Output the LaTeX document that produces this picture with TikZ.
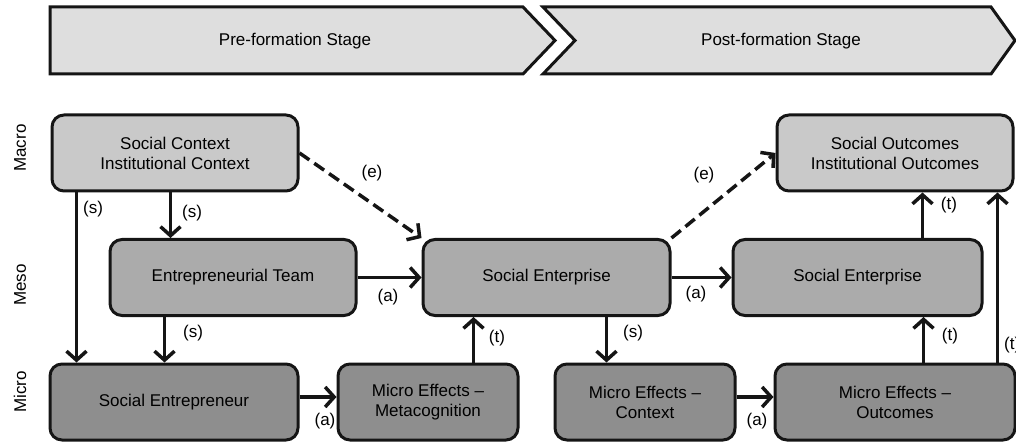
\documentclass[tikz,border=0pt]{standalone}
\usepackage{fontspec}
\setmainfont{Liberation Sans}
\definecolor{StageGray}{HTML}{DEDEDE}
\definecolor{MacroGray}{HTML}{C9C9C9}
\definecolor{MesoGray}{HTML}{ABABAB}
\definecolor{MicroGray}{HTML}{8E8E8E}
\definecolor{EdgeBlack}{HTML}{151515}
\usetikzlibrary{arrows.meta}

\begin{document}
\begin{tikzpicture}[x=1pt, y=-1pt,
    every node/.style={font=\fontsize{17}{20}\selectfont},
    box/.style={rectangle, rounded corners=12pt, draw=EdgeBlack, line width=3pt,
      minimum height=76pt, align=center, inner sep=0pt},
    macrobox/.style={box, fill=MacroGray},
    mesobox/.style={box, fill=MesoGray},
    microbox/.style={box, fill=MicroGray},
    stage/.style={draw=EdgeBlack, fill=StageGray, line width=3pt, line join=miter},
    lvl/.style={rotate=90},
    lab/.style={inner sep=0pt},
    arr/.style={-{Straight Barb[length=9pt,width=20pt]}, line width=3.5pt, draw=EdgeBlack},
    darr/.style={arr, dash pattern=on 12pt off 6pt}]
    \useasboundingbox (0,0) rectangle (1016,443);

    \draw[stage] (50,7) -- (523,7) -- (555,40.5) -- (523,74) -- (50,74) -- cycle;
    \draw[stage] (543,7) -- (991,7) -- (1015,40.5) -- (991,74) -- (543,74) -- (575,40.5) -- cycle;
    \node (pre) at (295,41) {Pre-formation Stage};
    \node (post) at (781,41) {Post-formation Stage};

    \node[lvl] (macro) at (20,148) {Macro};
    \node[lvl] (meso) at (20,285) {Meso};
    \node[lvl] (micro) at (20,392) {Micro};

    \node[macrobox, minimum width=246pt] (sc) at (175,153) {Social Context\\Institutional Context};
    \node[mesobox, minimum width=246pt] (et) at (233,277.5) {Entrepreneurial Team};
    \node[microbox, minimum width=248pt] (sent) at (174,402) {Social Entrepreneur};
    \node[microbox, minimum width=180pt] (meta) at (428,402) {Micro Effects –\\Metacognition};
    \node[mesobox, minimum width=247pt] (se1) at (546.5,277.5) {Social Enterprise};
    \node[mesobox, minimum width=249pt] (se2) at (857.5,277.5) {Social Enterprise};
    \node[microbox, minimum width=180pt] (ctx) at (645,402) {Micro Effects –\\Context};
    \node[microbox, minimum width=240pt] (out) at (895,402) {Micro Effects –\\Outcomes};
    \node[macrobox, minimum width=236pt] (so) at (895,153) {Social Outcomes\\Institutional Outcomes};

    \draw[arr] ([xshift=26pt]sc.south west) -- ([xshift=28pt]sent.north west);
    \draw[arr] ([xshift=120pt]sc.south west) -- ([xshift=62pt]et.north west);
    \draw[arr] ([xshift=56pt]et.south west) -- ([xshift=116pt]sent.north west);
    \draw[arr] (et.east) -- (se1.west);
    \draw[darr] (sc.east) -- (se1.north west);
    \draw[arr] ([yshift=5pt]sent.east) -- ([yshift=5pt]meta.west);
    \draw[arr] ([xshift=137pt]meta.north west) -- ([xshift=52pt]se1.south west);
    \draw[arr] (se1.east) -- (se2.west);
    \draw[arr] ([xshift=185pt]se1.south west) -- ([xshift=53pt]ctx.north west);
    \draw[darr] (se1.north east) -- (so.west);
    \draw[arr] ([yshift=5pt]ctx.east) -- ([yshift=5pt]out.west);
    \draw[arr] ([xshift=150pt]out.north west) -- ([xshift=192pt]se2.south west);
    \draw[arr] ([xshift=191pt]se2.north west) -- ([xshift=147pt]so.south west);
    \draw[arr] ([xshift=224pt]out.north west) -- ([xshift=222pt]so.south west);

    \node[lab] (s1) at (93,209) {(s)};
    \node[lab] (s2) at (192,213) {(s)};
    \node[lab] (s3) at (193,333) {(s)};
    \node[lab] (a1) at (388,297) {(a)};
    \node[lab] (e1) at (372,173) {(e)};
    \node[lab] (a2) at (325,421) {(a)};
    \node[lab] (t1) at (497,338) {(t)};
    \node[lab] (a3) at (696,294) {(a)};
    \node[lab] (s4) at (633,333) {(s)};
    \node[lab] (e2) at (704,175) {(e)};
    \node[lab] (a4) at (757,421) {(a)};
    \node[lab] (t2) at (950,336) {(t)};
    \node[lab] (t3) at (949,205) {(t)};
    \node[lab, anchor=west] (t4) at (1004,345) {(t)};
  \end{tikzpicture}
\end{document}
